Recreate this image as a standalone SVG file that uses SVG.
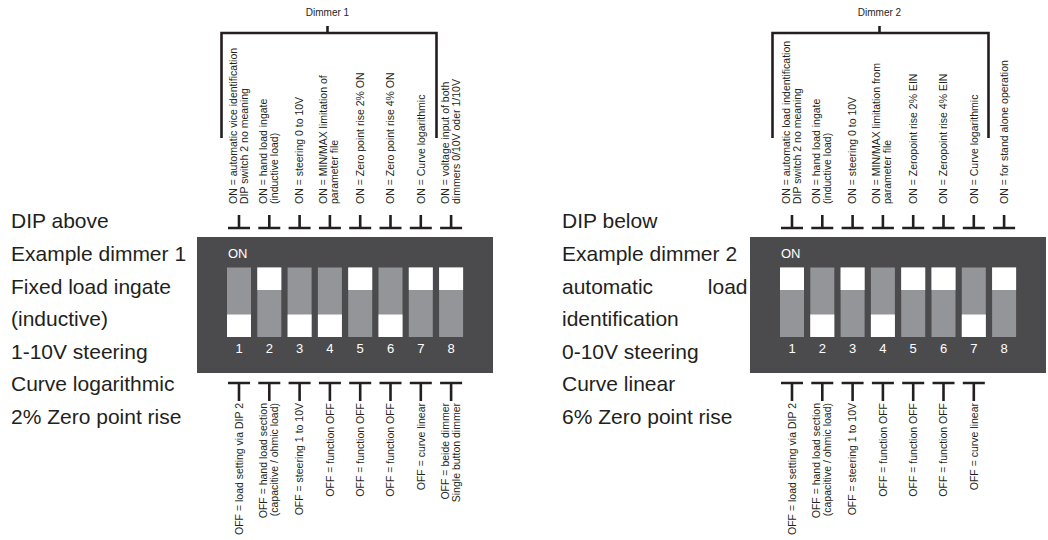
<svg xmlns="http://www.w3.org/2000/svg" xmlns:xlink="http://www.w3.org/1999/xlink" width="1048" height="540" viewBox="0 0 1048 540">
  <style>
    .lbl { font-family: "Liberation Sans", Arial, sans-serif; font-size: 10.5px; fill: #231f20; }
    .hdr { font-family: "Liberation Sans", Arial, sans-serif; font-size: 10px; fill: #231f20; text-anchor: middle; }
    .side { font-family: "Liberation Sans", Arial, sans-serif; font-size: 21px; fill: #231f20; }
    .on { font-family: "Liberation Sans", Arial, sans-serif; font-size: 13px; fill: #ffffff; }
    .num { font-family: "Liberation Sans", Arial, sans-serif; font-size: 13px; fill: #ffffff; text-anchor: middle; }
    .end { text-anchor: end; }
    .box { fill: #4b4b4d; }
    .slot { fill: #939598; }
    .knob { fill: #ffffff; }
    .wire { fill: none; stroke: #231f20; stroke-width: 2.6; }
  </style>
  <defs>
    <!-- inverted T above a switch, and T below a switch -->
    <path id="tUp" class="wire" d="M0,-13 V0 M-11,0 H11"/>
    <path id="tDn" class="wire" d="M-11,0 H11 M0,0 V18"/>
  </defs>

  <!-- left description -->
  <g id="desc1">
    <text class="side" x="11" y="228">DIP above</text>
    <text class="side" x="11" y="261">Example dimmer 1</text>
    <text class="side" x="11" y="293.5">Fixed load ingate</text>
    <text class="side" x="11" y="326">(inductive)</text>
    <text class="side" x="11" y="358.5">1-10V steering</text>
    <text class="side" x="11" y="391">Curve logarithmic</text>
    <text class="side" x="11" y="423.5">2% Zero point rise</text>
  </g>

  <!-- right description -->
  <g id="desc2">
    <text class="side" x="562" y="228">DIP below</text>
    <text class="side" x="562" y="261">Example dimmer 2</text>
    <text class="side" x="562" y="293.5">automatic</text>
    <text class="side end" x="747.5" y="293.5">load</text>
    <text class="side" x="562" y="326">identification</text>
    <text class="side" x="562" y="358.5">0-10V steering</text>
    <text class="side" x="562" y="391">Curve linear</text>
    <text class="side" x="562" y="423.5">6% Zero point rise</text>
  </g>

  <!-- DIP switch block, dimmer 1 -->
  <g id="dip1">
    <rect class="box" x="197" y="237" width="296" height="136"/>
    <text class="on" x="228" y="258">ON</text>
    <rect class="slot" x="227" y="267.5" width="24" height="69.5"/><rect class="knob" x="227" y="314.5" width="24" height="22.5"/>
    <rect class="slot" x="257.3" y="267.5" width="24" height="69.5"/><rect class="knob" x="257.3" y="267.5" width="24" height="22.5"/>
    <rect class="slot" x="287.6" y="267.5" width="24" height="69.5"/><rect class="knob" x="287.6" y="314.5" width="24" height="22.5"/>
    <rect class="slot" x="317.9" y="267.5" width="24" height="69.5"/><rect class="knob" x="317.9" y="314.5" width="24" height="22.5"/>
    <rect class="slot" x="348.2" y="267.5" width="24" height="69.5"/><rect class="knob" x="348.2" y="267.5" width="24" height="22.5"/>
    <rect class="slot" x="378.5" y="267.5" width="24" height="69.5"/><rect class="knob" x="378.5" y="314.5" width="24" height="22.5"/>
    <rect class="slot" x="408.8" y="267.5" width="24" height="69.5"/><rect class="knob" x="408.8" y="267.5" width="24" height="22.5"/>
    <rect class="slot" x="439.1" y="267.5" width="24" height="69.5"/><rect class="knob" x="439.1" y="267.5" width="24" height="22.5"/>
    <text class="num" x="239" y="353">1</text>
    <text class="num" x="269.3" y="353">2</text>
    <text class="num" x="299.6" y="353">3</text>
    <text class="num" x="329.9" y="353">4</text>
    <text class="num" x="360.2" y="353">5</text>
    <text class="num" x="390.5" y="353">6</text>
    <text class="num" x="420.8" y="353">7</text>
    <text class="num" x="451.1" y="353">8</text>
  </g>

  <!-- DIP switch block, dimmer 2 -->
  <g id="dip2">
    <rect class="box" x="750" y="237" width="296" height="136"/>
    <text class="on" x="781" y="258">ON</text>
    <rect class="slot" x="780" y="267.5" width="24" height="69.5"/><rect class="knob" x="780" y="267.5" width="24" height="22.5"/>
    <rect class="slot" x="810.3" y="267.5" width="24" height="69.5"/><rect class="knob" x="810.3" y="314.5" width="24" height="22.5"/>
    <rect class="slot" x="840.6" y="267.5" width="24" height="69.5"/><rect class="knob" x="840.6" y="267.5" width="24" height="22.5"/>
    <rect class="slot" x="870.9" y="267.5" width="24" height="69.5"/><rect class="knob" x="870.9" y="314.5" width="24" height="22.5"/>
    <rect class="slot" x="901.2" y="267.5" width="24" height="69.5"/><rect class="knob" x="901.2" y="267.5" width="24" height="22.5"/>
    <rect class="slot" x="931.5" y="267.5" width="24" height="69.5"/><rect class="knob" x="931.5" y="267.5" width="24" height="22.5"/>
    <rect class="slot" x="961.8" y="267.5" width="24" height="69.5"/><rect class="knob" x="961.8" y="314.5" width="24" height="22.5"/>
    <rect class="slot" x="992.1" y="267.5" width="24" height="69.5"/><rect class="knob" x="992.1" y="267.5" width="24" height="22.5"/>
    <text class="num" x="792" y="353">1</text>
    <text class="num" x="822.3" y="353">2</text>
    <text class="num" x="852.6" y="353">3</text>
    <text class="num" x="882.9" y="353">4</text>
    <text class="num" x="913.2" y="353">5</text>
    <text class="num" x="943.5" y="353">6</text>
    <text class="num" x="973.8" y="353">7</text>
    <text class="num" x="1004.1" y="353">8</text>
  </g>

  <!-- brackets and pointer ticks -->
  <g id="connectors">
    <path class="wire" d="M221.5,138 V33 H436.5 V138 M327.5,26 V33"/>
    <path class="wire" d="M772.5,138 V33 H988.5 V138 M879.5,26 V33"/>
    <use xlink:href="#tUp" x="239" y="228"/>
    <use xlink:href="#tUp" x="269.3" y="228"/>
    <use xlink:href="#tUp" x="299.6" y="228"/>
    <use xlink:href="#tUp" x="329.9" y="228"/>
    <use xlink:href="#tUp" x="360.2" y="228"/>
    <use xlink:href="#tUp" x="390.5" y="228"/>
    <use xlink:href="#tUp" x="420.8" y="228"/>
    <use xlink:href="#tUp" x="451.1" y="228"/>
    <use xlink:href="#tDn" x="239" y="383"/>
    <use xlink:href="#tDn" x="269.3" y="383"/>
    <use xlink:href="#tDn" x="299.6" y="383"/>
    <use xlink:href="#tDn" x="329.9" y="383"/>
    <use xlink:href="#tDn" x="360.2" y="383"/>
    <use xlink:href="#tDn" x="390.5" y="383"/>
    <use xlink:href="#tDn" x="420.8" y="383"/>
    <use xlink:href="#tDn" x="451.1" y="383"/>
    <use xlink:href="#tUp" x="792" y="228"/>
    <use xlink:href="#tUp" x="822.3" y="228"/>
    <use xlink:href="#tUp" x="852.6" y="228"/>
    <use xlink:href="#tUp" x="882.9" y="228"/>
    <use xlink:href="#tUp" x="913.2" y="228"/>
    <use xlink:href="#tUp" x="943.5" y="228"/>
    <use xlink:href="#tUp" x="973.8" y="228"/>
    <use xlink:href="#tUp" x="1004.1" y="228"/>
    <use xlink:href="#tDn" x="792" y="383"/>
    <use xlink:href="#tDn" x="822.3" y="383"/>
    <use xlink:href="#tDn" x="852.6" y="383"/>
    <use xlink:href="#tDn" x="882.9" y="383"/>
    <use xlink:href="#tDn" x="913.2" y="383"/>
    <use xlink:href="#tDn" x="943.5" y="383"/>
    <use xlink:href="#tDn" x="973.8" y="383"/>
  </g>

  <!-- switch meanings, dimmer 1 -->
  <g id="labels1">
    <text class="hdr" x="327.5" y="16">Dimmer 1</text>
    <text class="lbl" transform="translate(236.5,204) rotate(-90)"><tspan x="0">ON = automatic vice identification</tspan><tspan x="0" dy="11">DIP switch 2 no meaning</tspan></text>
    <text class="lbl" transform="translate(266.8,204) rotate(-90)"><tspan x="0">ON = hand load ingate</tspan><tspan x="0" dy="11">(inductive load)</tspan></text>
    <text class="lbl" transform="translate(303.3,204) rotate(-90)">ON = steering 0 to 10V</text>
    <text class="lbl" transform="translate(327.4,204) rotate(-90)"><tspan x="0">ON = MIN/MAX limitation of</tspan><tspan x="0" dy="11">parameter file</tspan></text>
    <text class="lbl" transform="translate(363.9,204) rotate(-90)">ON = Zero point rise 2% ON</text>
    <text class="lbl" transform="translate(394.2,204) rotate(-90)">ON = Zero point rise 4% ON</text>
    <text class="lbl" transform="translate(424.5,204) rotate(-90)">ON = Curve logarithmic</text>
    <text class="lbl" transform="translate(448.6,204) rotate(-90)"><tspan x="0">ON = voltage input of both</tspan><tspan x="0" dy="11">dimmers 0/10V oder 1/10V</tspan></text>

    <text class="lbl end" transform="translate(242.7,403) rotate(-90)">OFF = load setting via DIP 2</text>
    <text class="lbl end" transform="translate(266.8,403) rotate(-90)"><tspan x="0">OFF = hand load section</tspan><tspan x="0" dy="11">(capacitive / ohmic load)</tspan></text>
    <text class="lbl end" transform="translate(303.3,403) rotate(-90)">OFF = steering 1 to 10V</text>
    <text class="lbl end" transform="translate(333.6,403) rotate(-90)">OFF = function OFF</text>
    <text class="lbl end" transform="translate(363.9,403) rotate(-90)">OFF = function OFF</text>
    <text class="lbl end" transform="translate(394.2,403) rotate(-90)">OFF = function OFF</text>
    <text class="lbl end" transform="translate(424.5,403) rotate(-90)">OFF = curve linear</text>
    <text class="lbl end" transform="translate(448.6,403) rotate(-90)"><tspan x="0">OFF = beide dimmer</tspan><tspan x="0" dy="11">Single button dimmer</tspan></text>
  </g>

  <!-- switch meanings, dimmer 2 -->
  <g id="labels2">
    <text class="hdr" x="879.5" y="16">Dimmer 2</text>
    <text class="lbl" transform="translate(789.5,204) rotate(-90)"><tspan x="0">ON = automatic load indentification</tspan><tspan x="0" dy="11">DIP switch 2 no meaning</tspan></text>
    <text class="lbl" transform="translate(819.8,204) rotate(-90)"><tspan x="0">ON = hand load ingate</tspan><tspan x="0" dy="11">(inductive load)</tspan></text>
    <text class="lbl" transform="translate(856.3,204) rotate(-90)">ON = steering 0 to 10V</text>
    <text class="lbl" transform="translate(880.4,204) rotate(-90)"><tspan x="0">ON = MIN/MAX limitation from</tspan><tspan x="0" dy="11">parameter file</tspan></text>
    <text class="lbl" transform="translate(916.9,204) rotate(-90)">ON = Zeropoint rise 2% EIN</text>
    <text class="lbl" transform="translate(947.2,204) rotate(-90)">ON = Zeropoint rise 4% EIN</text>
    <text class="lbl" transform="translate(977.5,204) rotate(-90)">ON = Curve logarithmic</text>
    <text class="lbl" transform="translate(1007.8,204) rotate(-90)">ON = for stand alone operation</text>

    <text class="lbl end" transform="translate(795.7,403) rotate(-90)">OFF = load setting via DIP 2</text>
    <text class="lbl end" transform="translate(819.8,403) rotate(-90)"><tspan x="0">OFF = hand load section</tspan><tspan x="0" dy="11">(capacitive / ohmic load)</tspan></text>
    <text class="lbl end" transform="translate(856.3,403) rotate(-90)">OFF = steering 1 to 10V</text>
    <text class="lbl end" transform="translate(886.6,403) rotate(-90)">OFF = function OFF</text>
    <text class="lbl end" transform="translate(916.9,403) rotate(-90)">OFF = function OFF</text>
    <text class="lbl end" transform="translate(947.2,403) rotate(-90)">OFF = function OFF</text>
    <text class="lbl end" transform="translate(977.5,403) rotate(-90)">OFF = curve linear</text>
  </g>
</svg>
